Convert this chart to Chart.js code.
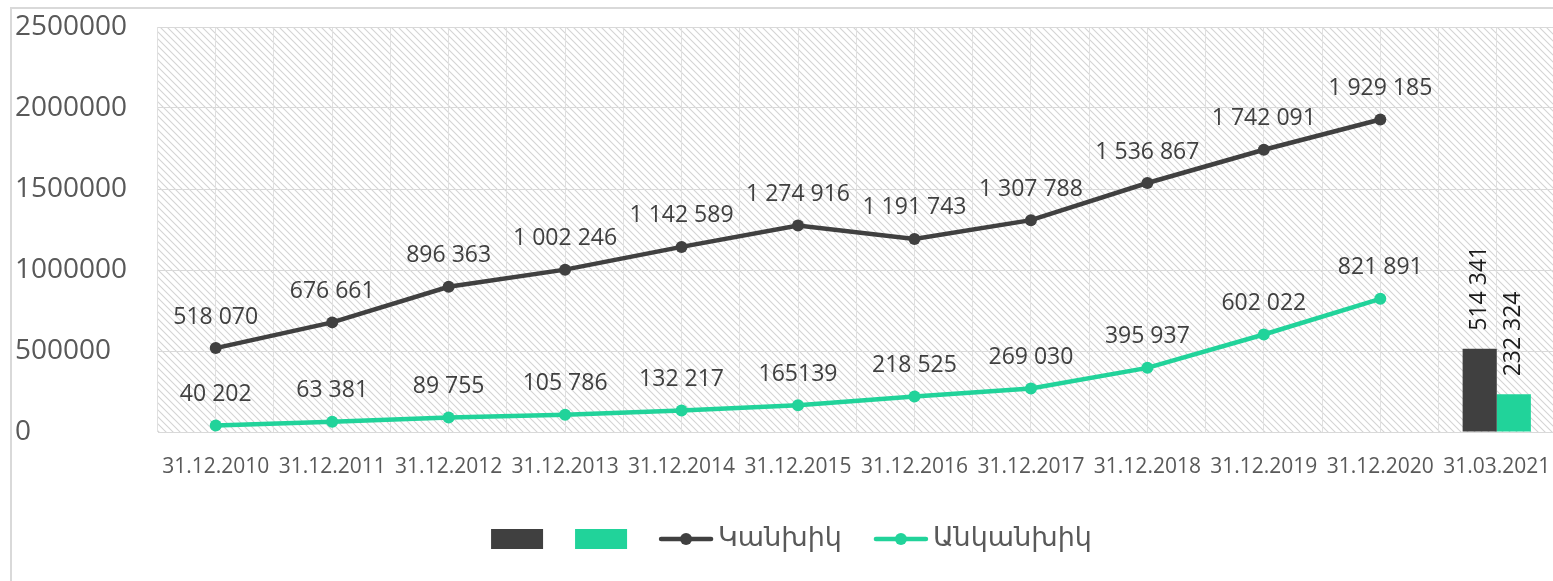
<!DOCTYPE html>
<html>
<head>
<meta charset="utf-8">
<script src="https://cdn.jsdelivr.net/npm/chart.js@4.4.1/dist/chart.umd.min.js"></script>
<style>
html,body{margin:0;padding:0;overflow:hidden;background:#fff}
canvas{display:block}
</style>
</head>
<body>
<canvas id="grafico" width="1573" height="581"></canvas>
<script>
// DADOS
const datas = ["31.12.2010","31.12.2011","31.12.2012","31.12.2013","31.12.2014","31.12.2015",
"31.12.2016","31.12.2017","31.12.2018","31.12.2019","31.12.2020","31.03.2021"];

const kanxik = [518070,676661,896363,1002246,1142589,1274916,1191743,1307788,1536867,1742091,1929185,null];
const ankanxik = [40202,63381,89755,105786,132217,165139,218525,269030,395937,602022,821891,null];

const kanxikBarra = [null,null,null,null,null,null,null,null,null,null,null,514341];
const ankanxikBarra = [null,null,null,null,null,null,null,null,null,null,null,232324];

const rotulosAnkanxik = ["40 202","63 381","89 755","105 786","132 217","165139","218 525","269 030","395 937","602 022","821 891",""];

const yTicks = [0,500000,1000000,1500000,2000000,2500000];

const ESCURO="#404040";
const VERDE="#21D39A";
const FONTE='"Open Sans", "Noto Sans", sans-serif';

function fmt(v){
return String(v).replace(/\B(?=(\d{3})+(?!\d))/g," ");
}

function tracejado(){
const c=document.createElement("canvas");
c.width=7;c.height=7;
const g=c.getContext("2d");
g.strokeStyle="#d4d4d4";
g.lineWidth=1.1;
g.beginPath();
g.moveTo(-1,-1);g.lineTo(8,8);
g.moveTo(-1,6);g.lineTo(1,8);
g.moveTo(6,-1);g.lineTo(8,1);
g.stroke();
return c;
}

// fundo, moldura e padrão da área do gráfico
const fundo={
id:"fundo",
beforeDraw(chart){
const ctx=chart.ctx;
const a=chart.chartArea;
ctx.save();
ctx.fillStyle="#fff";
ctx.fillRect(0,0,chart.width,chart.height);
ctx.strokeStyle="#d9d9d9";
ctx.lineWidth=2;
ctx.strokeRect(11,8,chart.width+20,chart.height+20);
ctx.fillStyle=ctx.createPattern(tracejado(),"repeat");
ctx.fillRect(a.left,a.top,a.right-a.left,a.bottom-a.top);
ctx.restore();
}
};

// rótulos dos valores
const rotulos={
id:"rotulos",
afterDatasetsDraw(chart){
const ctx=chart.ctx;
ctx.save();
chart.data.datasets.forEach((ds,i)=>{
const meta=chart.getDatasetMeta(i);
meta.data.forEach((el,j)=>{
const v=ds.data[j];
if(v==null) return;
const txt=ds.rotulos?ds.rotulos[j]:fmt(v);
ctx.font="23px "+FONTE;
if(ds.type==="bar"){
ctx.save();
ctx.translate(el.x,el.y-18);
ctx.rotate(-Math.PI/2);
ctx.fillStyle="#1a1a1a";
ctx.textAlign="left";
ctx.textBaseline="middle";
ctx.fillText(txt,0,0);
ctx.restore();
}else{
ctx.fillStyle=ESCURO;
ctx.textAlign="center";
ctx.textBaseline="middle";
ctx.fillText(txt,el.x,el.y-31);
}
});
});
ctx.restore();
}
};

// legenda
const legenda={
id:"legenda",
afterDraw(chart){
const ctx=chart.ctx;
const cy=539;
ctx.save();
ctx.font='27px "DejaVu Sans", sans-serif';
const itens=chart.data.datasets.map(ds=>{
const largura=ds.type==="bar"?52:54;
const tw=ds.label?ctx.measureText(ds.label).width:0;
return {ds,largura,tw,total:largura+(tw?5+tw:0)};
});
const gap=32;
let total=itens.reduce((s,it)=>s+it.total,0)+gap*(itens.length-1);
let x=791.5-total/2;
itens.forEach(it=>{
const ds=it.ds;
if(ds.type==="bar"){
ctx.fillStyle=ds.backgroundColor;
ctx.fillRect(x,cy-10,52,20);
}else{
ctx.strokeStyle=ds.borderColor;
ctx.lineWidth=4.5;
ctx.lineCap="round";
ctx.beginPath();
ctx.moveTo(x+2,cy);ctx.lineTo(x+it.largura-2,cy);
ctx.stroke();
ctx.fillStyle=ds.borderColor;
ctx.beginPath();
ctx.arc(x+it.largura/2,cy,6,0,Math.PI*2);
ctx.fill();
ctx.fillStyle="#595959";
ctx.textAlign="left";
ctx.textBaseline="middle";
ctx.fillText(ds.label,x+it.largura+5,cy);
}
x+=it.total+gap;
});
ctx.restore();
}
};

new Chart(document.getElementById("grafico"),{
type:"bar",
data:{
labels:datas,
datasets:[
{type:"bar",label:"",data:kanxikBarra,backgroundColor:ESCURO,categoryPercentage:0.586,barPercentage:1},
{type:"bar",label:"",data:ankanxikBarra,backgroundColor:VERDE,categoryPercentage:0.586,barPercentage:1},
{type:"line",label:"Կանխիկ",data:kanxik,borderColor:ESCURO,backgroundColor:ESCURO,
borderWidth:4.5,pointRadius:6,pointBackgroundColor:ESCURO,pointBorderWidth:0},
{type:"line",label:"Անկանխիկ",data:ankanxik,rotulos:rotulosAnkanxik,borderColor:VERDE,backgroundColor:VERDE,
borderWidth:4.5,pointRadius:6,pointBackgroundColor:VERDE,pointBorderWidth:0}
]
},
options:{
responsive:false,
animation:false,
layout:{padding:{left:15,top:27,right:17,bottom:0}},
plugins:{legend:{display:false},tooltip:{enabled:false}},
scales:{
x:{
grid:{offset:false,color:"#e0e0e0",drawTicks:false},
border:{display:false},
ticks:{autoSkip:false,maxRotation:0,minRotation:0,padding:22,color:"#595959",font:{family:FONTE,size:21}},
afterFit(s){s.height=149;}
},
x2:{
type:"category",
axis:"x",
position:"bottom",
offset:true,
grid:{offset:true,color:"#e0e0e0",drawTicks:false},
border:{display:false},
ticks:{display:false},
afterFit(s){s.height=0;}
},
y:{
min:0,max:2500000,
afterBuildTicks(s){s.ticks=yTicks.map(v=>({value:v}));},
ticks:{crossAlign:"far",padding:0,color:"#595959",font:{family:FONTE,size:28},callback:v=>String(v)},
grid:{color:"#d9d9d9",drawTicks:false},
border:{display:false},
afterFit(s){s.width=142.5;}
}
}
},
plugins:[fundo,rotulos,legenda]
});
</script>
</body>
</html>
